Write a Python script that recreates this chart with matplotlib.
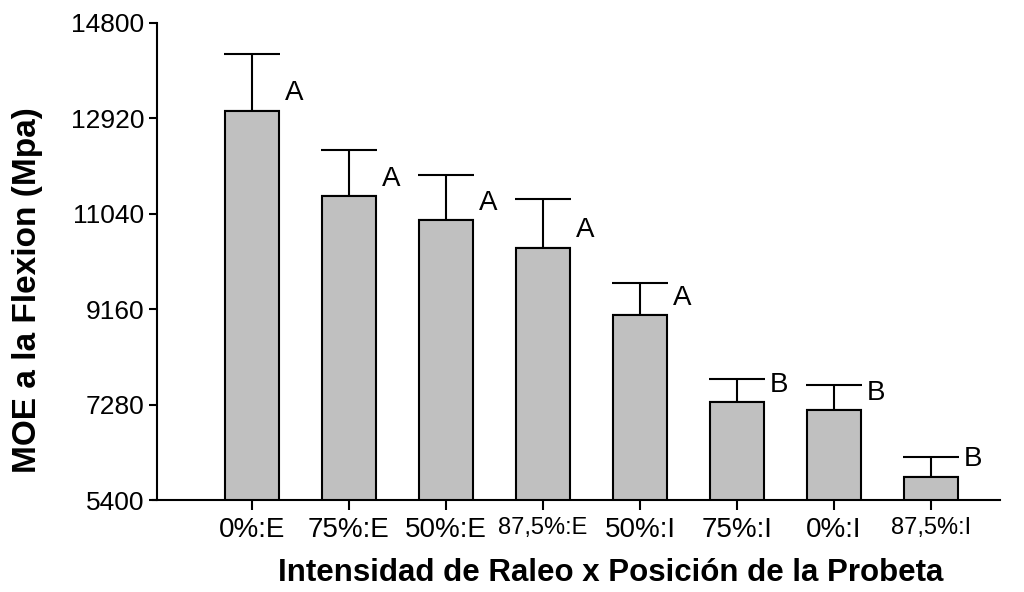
import matplotlib.pyplot as plt
import numpy as np

plt.rcParams['font.family'] = ['Liberation Sans', 'DejaVu Sans']

grupos = ['0%:E', '75%:E', '50%:E', '87,5%:E', '50%:I', '75%:I', '0%:I', '87,5%:I']
moe = [13068, 11390, 10916, 10370, 9039, 7328, 7176, 5847]
error = [1113, 915, 882, 954, 646, 454, 488, 407]
letras = ['A', 'A', 'A', 'A', 'A', 'B', 'B', 'B']
yticks = [5400, 7280, 9160, 11040, 12920, 14800]

# desplazamiento vertical (pt) de cada letra bajo el extremo del error
letra_dy = [28, 21, 20, 22, 11, 4, 6, 2]

fig = plt.figure(figsize=(10.24, 5.92), dpi=100)
ax = fig.add_axes([153 / 1024, 1 - 500 / 592, 847 / 1024, 477 / 592])

x = np.arange(len(grupos))
ancho = 0.556

ax.bar(x, moe, width=ancho, color='#c0c0c0', edgecolor='black', linewidth=1.5,
       zorder=2)
ax.errorbar(x, moe, yerr=[np.zeros(len(error)), error], fmt='none',
            ecolor='black', elinewidth=1.5, capsize=20, capthick=1.5, zorder=1)

for xi, m, e, l, dy in zip(x, moe, error, letras, letra_dy):
    ax.annotate(l, xy=(xi + ancho / 2, m + e), xytext=(4, -dy),
                textcoords='offset points', ha='left', va='center', fontsize=20)

ax.set_ylim(5400, 14800)
ax.set_xlim(-1.02, 7.71)
ax.set_yticks(yticks)
ax.set_xticks(x)
ax.set_xticklabels(grupos)

ax.spines['top'].set_visible(False)
ax.spines['right'].set_visible(False)
ax.spines['left'].set_position(('axes', 0.005))
ax.spines['left'].set_linewidth(1.5)
ax.spines['bottom'].set_linewidth(1.5)
ax.tick_params(axis='both', direction='out', width=1.5, length=6, labelsize=19)
ax.tick_params(axis='x', length=7, pad=5, labelsize=20)
for t in ax.get_xticklabels():
    if t.get_text().startswith('87,5'):
        t.set_fontsize(17)

ax.set_ylabel('MOE a la Flexion (Mpa)', fontsize=24, fontweight='bold')
ax.yaxis.set_label_coords(-0.13, 0.44)
ax.set_xlabel('Intensidad de Raleo x Posición de la Probeta', fontsize=22.5,
              fontweight='bold')
ax.xaxis.set_label_coords(0.54, -0.122)

plt.savefig('out.png', dpi=100)
